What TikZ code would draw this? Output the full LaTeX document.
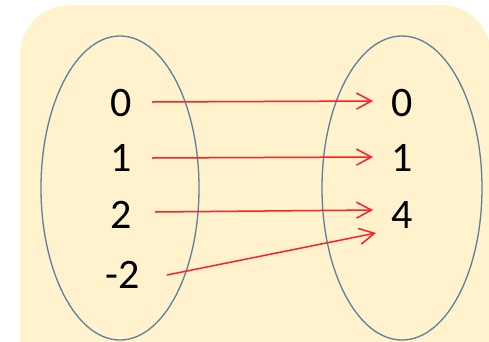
\documentclass[tikz,border=0pt]{standalone}
\usepackage{fontspec}
\setmainfont{Carlito}
\usetikzlibrary{arrows.meta}
\definecolor{bgyellow}{HTML}{FFF2CC}
\definecolor{ellblue}{HTML}{5B7F9F}
\definecolor{arrred}{HTML}{FF2020}
\tikzset{
  setell/.style={draw=ellblue, line width=1.3pt},
  num/.style={font=\fontsize{42}{42}\selectfont, inner sep=0pt, anchor=center},
  maparrow/.style={draw=arrred, line width=1.5pt, -{Straight Barb[length=15pt,width=16pt,line width=1.5pt]}}
}
\begin{document}
\begin{tikzpicture}[x=1pt,y=-1pt]
\useasboundingbox (0,0) rectangle (489,341);
\clip (0,0) rectangle (489,341);
\fill[bgyellow, rounded corners=50pt] (20,5) rectangle (491,400);
\draw[setell] (120,188) ellipse [x radius=79, y radius=152];
\draw[setell] (402,188) ellipse [x radius=80, y radius=152];
\node[num] (a0) at (121,103) {0};
\node[num] (a1) at (121,158) {1};
\node[num] (a2) at (121,215) {2};
\node[num] (a3) at (123,275) {-2};
\node[num] (b0) at (402,103) {0};
\node[num] (b1) at (402,158) {1};
\node[num] (b4) at (402,215) {4};
\coordinate (s0) at (152,102);
\coordinate (t0) at (373,101);
\coordinate (s1) at (152,158);
\coordinate (t1) at (373,157);
\coordinate (s2) at (155,212);
\coordinate (t2) at (373,210);
\coordinate (s3) at (167,275);
\coordinate (t3) at (376,233);
\draw[maparrow] (s0) -- (t0);
\draw[maparrow] (s1) -- (t1);
\draw[maparrow] (s2) -- (t2);
\draw[maparrow] (s3) -- (t3);
\end{tikzpicture}
\end{document}
